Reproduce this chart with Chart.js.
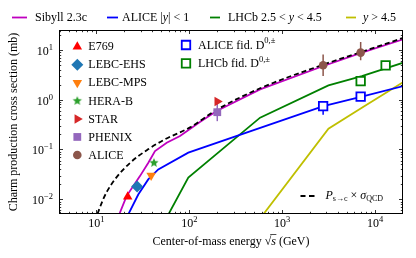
<!DOCTYPE html>
<html>
<head>
<meta charset="utf-8">
<script src="https://cdn.jsdelivr.net/npm/chart.js@4.4.1/dist/chart.umd.min.js"></script>
<style>
  html, body { margin: 0; padding: 0; background: #fff; }
  #c { display: block; }
</style>
</head>
<body>
<canvas id="c" width="416" height="258"></canvas>
<script>
// ---- data ----
const sibyllEnergy = [17.6, 21.1, 29.4, 36.2, 42.7, 57.1, 79.4, 130, 197, 578, 2780, 7210, 20200];
const sibyllSigma  = [0.005, 0.0116, 0.0292, 0.0543, 0.0929, 0.137, 0.186, 0.355, 0.59, 1.61, 4.73, 8.79, 16.3];

const aliceMidEnergy = [22.0, 28.2, 36.1, 46.3, 97.5, 2780, 7210, 20200];
const aliceMidSigma  = [0.00497, 0.0125, 0.0251, 0.0398, 0.0863, 0.743, 1.15, 1.88];

const lhcbEnergy = [59.5, 97.5, 578, 3150, 7210, 20200];
const lhcbSigma  = [0.00497, 0.0272, 0.435, 1.94, 2.98, 5.53];

const fwdEnergy = [627, 3150, 7210, 20200];
const fwdSigma  = [0.0050, 0.262, 0.69, 2.26];

const qcdEnergy = [10.25, 11.8, 13.0, 15.8, 23.0, 35.9, 54.7, 102, 197, 578, 2780, 7210, 20200];
const qcdSigma  = [0.0051, 0.00995, 0.0144, 0.0251, 0.0538, 0.1005, 0.160, 0.278, 0.624, 1.69, 5.05, 9.12, 17.4];

const e769Energy = [21.7],  e769Sigma = [0.0113];
const ehsEnergy  = [27.4],  ehsSigma  = [0.018];
const mpsEnergy  = [38.8],  mpsSigma  = [0.030];
const herabEnergy = [41.6], herabSigma = [0.054];
const starEnergy = [200],   starSigma = [0.92];
const phenixEnergy = [200], phenixSigma = [0.56], phenixLo = [0.37], phenixHi = [0.88];
const aliceEnergy = [2760, 7000], aliceSigma = [4.89, 8.79], aliceLo = [3.0, 6.2], aliceHi = [8.1, 14.4];
const aliceFidEnergy = [2760, 7000], aliceFidSigma = [0.743, 1.15], aliceFidLo = [0.5, 1.07], aliceFidHi = [0.92, 1.24];
const lhcbFidEnergy = [7000, 13000], lhcbFidSigma = [2.36, 4.89];

const xTickExps = [1, 2, 3, 4];
const yTickExps = [-2, -1, 0, 1];

// ---- helpers ----
const SERIF = '"Liberation Serif", "Times New Roman", serif';
function font(size, style) { return (style || '') + ' ' + size + 'px ' + SERIF; }

function pts(xs, ys) { return xs.map((x, i) => ({ x: x, y: ys[i] })); }
function errPts(xs, lo, hi) {
    const out = [];
    xs.forEach((x, i) => { out.push({ x: x, y: lo[i] }, { x: x, y: hi[i] }, { x: x, y: null }); });
    return out;
}

function starCanvas(color, r) {
    const c = document.createElement('canvas');
    const s = Math.ceil(r * 2 + 2);
    c.width = s; c.height = s;
    const g = c.getContext('2d');
    g.fillStyle = color;
    g.beginPath();
    for (let i = 0; i < 10; i++) {
        const a = -Math.PI / 2 + i * Math.PI / 5;
        const rr = i % 2 ? r * 0.45 : r;
        g.lineTo(s / 2 + rr * Math.cos(a), s / 2 + rr * Math.sin(a));
    }
    g.closePath();
    g.fill();
    return c;
}

function drawRuns(ctx, parts, x, y) {
    ctx.textAlign = 'left';
    parts.forEach(p => {
        ctx.font = font(p[1], p[2]);
        ctx.fillText(p[0], x, y + (p[3] || 0));
        x += ctx.measureText(p[0]).width;
    });
    return x;
}
function runsWidth(ctx, parts) {
    let w = 0;
    parts.forEach(p => { ctx.font = font(p[1], p[2]); w += ctx.measureText(p[0]).width; });
    return w;
}
function supText(n) { return n < 0 ? '\u2212' + (-n) : String(n); }

// ---- markers ----
const markerSets = [
    { label: 'E769', xs: e769Energy, ys: e769Sigma, color: '#ff0000', style: 'triangle', r: 5.5, rot: 0 },
    { label: 'LEBC-EHS', xs: ehsEnergy, ys: ehsSigma, color: '#1f77b4', style: 'rectRot', r: 6, rot: 0 },
    { label: 'LEBC-MPS', xs: mpsEnergy, ys: mpsSigma, color: '#ff7f0e', style: 'triangle', r: 5.5, rot: 180 },
    { label: 'HERA-B', xs: herabEnergy, ys: herabSigma, color: '#2ca02c', style: starCanvas('#2ca02c', 4.8), r: 5, rot: 0 },
    { label: 'STAR', xs: starEnergy, ys: starSigma, color: '#d62728', style: 'triangle', r: 5.5, rot: 90 },
    { label: 'PHENIX', xs: phenixEnergy, ys: phenixSigma, color: '#9467bd', style: 'rect', r: 5.5, rot: 0 },
    { label: 'ALICE', xs: aliceEnergy, ys: aliceSigma, color: '#8c564b', style: 'circle', r: 4.3, rot: 0 }
];
const openSets = [
    { label: 'ALICE fid. D', xs: aliceFidEnergy, ys: aliceFidSigma, color: '#0000ff' },
    { label: 'LHCb fid. D', xs: lhcbFidEnergy, ys: lhcbFidSigma, color: '#008000' }
];

const datasets = [];
openSets.forEach(m => datasets.push({
    data: pts(m.xs, m.ys), pointStyle: 'rect', pointRadius: 6, pointBorderWidth: 1.8,
    pointBorderColor: m.color, pointBackgroundColor: '#ffffff', showLine: false
}));
markerSets.slice().reverse().forEach(m => datasets.push({
    data: pts(m.xs, m.ys), pointStyle: m.style, pointRadius: m.r, pointRotation: m.rot,
    pointBorderWidth: 0, pointBackgroundColor: m.color, pointBorderColor: m.color, showLine: false
}));
function errSet(data, color) {
    return { data: data, showLine: true, spanGaps: false, borderColor: color, borderWidth: 1.5, pointRadius: 0 };
}
datasets.push(errSet(errPts(aliceEnergy, aliceLo, aliceHi), '#8c564b'));
datasets.push(errSet(errPts(phenixEnergy, phenixLo, phenixHi), '#9467bd'));
datasets.push(errSet(errPts(aliceFidEnergy, aliceFidLo, aliceFidHi), '#0000ff'));

function curve(xs, ys, color, dash, smooth) {
    const d = { data: pts(xs, ys), showLine: true, borderColor: color, borderWidth: 1.8,
        borderDash: dash || [], pointRadius: 0, tension: 0 };
    if (smooth) d.cubicInterpolationMode = 'monotone';
    return d;
}
datasets.push(curve(qcdEnergy, qcdSigma, '#000000', [5, 3], true));
datasets.push(curve(sibyllEnergy, sibyllSigma, '#bf00bf'));
datasets.push(curve(aliceMidEnergy, aliceMidSigma, '#0000ff'));
datasets.push(curve(lhcbEnergy, lhcbSigma, '#008000'));
datasets.push(curve(fwdEnergy, fwdSigma, '#bfbf00'));

// ---- frame, ticks, labels, legends ----
const framePlugin = {
    id: 'frame',
    afterDraw(chart) {
        const ctx = chart.ctx;
        const a = chart.chartArea;
        const xs = chart.scales.x, ys = chart.scales.y;
        ctx.save();
        ctx.fillStyle = '#000';
        ctx.strokeStyle = '#000';

        // box
        ctx.lineWidth = 1;
        ctx.strokeRect(a.left + 0.5, a.top + 0.5, a.right - a.left - 1, a.bottom - a.top - 1);

        // ticks on all sides, pointing in
        ctx.lineWidth = 0.8;
        ctx.beginPath();
        for (let k = 0; k <= 5; k++) {
            for (let m = 1; m <= 9; m++) {
                const v = m * Math.pow(10, k);
                const len = m === 1 ? 4 : 2.2;
                const px = Math.round(xs.getPixelForValue(v)) + 0.5;
                if (px > a.left && px < a.right) {
                    ctx.moveTo(px, a.bottom); ctx.lineTo(px, a.bottom - len);
                    ctx.moveTo(px, a.top); ctx.lineTo(px, a.top + len);
                }
            }
        }
        for (let k = -3; k <= 1; k++) {
            for (let m = 1; m <= 9; m++) {
                const v = m * Math.pow(10, k);
                const len = m === 1 ? 4 : 2.2;
                const py = Math.round(ys.getPixelForValue(v)) + 0.5;
                if (py > a.top && py < a.bottom) {
                    ctx.moveTo(a.left, py); ctx.lineTo(a.left + len, py);
                    ctx.moveTo(a.right, py); ctx.lineTo(a.right - len, py);
                }
            }
        }
        ctx.stroke();

        // tick labels
        ctx.textBaseline = 'alphabetic';
        xTickExps.forEach(k => {
            const parts = [['10', 12], [supText(k), 8.5, '', -5]];
            const w = runsWidth(ctx, parts);
            drawRuns(ctx, parts, xs.getPixelForValue(Math.pow(10, k)) - w / 2, a.bottom + 13);
        });
        yTickExps.forEach(k => {
            const parts = [['10', 12], [supText(k), 8.5, '', -5]];
            const w = runsWidth(ctx, parts);
            drawRuns(ctx, parts, a.left - 6 - w, ys.getPixelForValue(Math.pow(10, k)) + 5);
        });

        // x title
        const xt = [['Center-of-mass energy ', 12], ['\u221A', 12], ['s', 12, 'italic'], [' (GeV)', 12]];
        const xw = runsWidth(ctx, xt);
        const x0 = (a.left + a.right) / 2 - xw / 2;
        const base = 245;
        drawRuns(ctx, xt, x0, base);
        ctx.font = font(12);
        const preW = ctx.measureText('Center-of-mass energy \u221A').width;
        ctx.font = font(12, 'italic');
        const sW = ctx.measureText('s').width;
        ctx.lineWidth = 0.7;
        ctx.beginPath();
        ctx.moveTo(x0 + preW - 1, base - 10.5);
        ctx.lineTo(x0 + preW + sW + 0.5, base - 10.5);
        ctx.stroke();

        // y title
        ctx.save();
        ctx.translate(14, (a.top + a.bottom) / 2);
        ctx.rotate(-Math.PI / 2);
        ctx.font = font(12);
        ctx.textAlign = 'center';
        ctx.textBaseline = 'middle';
        ctx.fillText('Charm production cross section (mb)', 0, 0);
        ctx.restore();

        const draw = Chart.helpers && Chart.helpers.drawPoint;
        function marker(opts, x, y, fill, stroke, bw) {
            ctx.fillStyle = fill; ctx.strokeStyle = stroke; ctx.lineWidth = bw;
            if (draw) {
                draw(ctx, { pointStyle: opts.style, radius: opts.r, rotation: opts.rot || 0, borderWidth: bw }, x, y);
            } else {
                ctx.beginPath(); ctx.arc(x, y, opts.r, 0, Math.PI * 2); ctx.fill();
            }
        }

        // left legend
        ctx.textBaseline = 'middle';
        markerSets.forEach((m, i) => {
            const y = 46.7 + i * 18.05;
            marker(m, 77.3, y, m.color, m.color, 0);
            ctx.fillStyle = '#000';
            ctx.font = font(12);
            ctx.textAlign = 'left';
            ctx.fillText(m.label, 88.3, y + 0.5);
        });

        // open-square legend
        openSets.forEach((m, i) => {
            const y = 45 + i * 18.3;
            marker({ style: 'rect', r: 6 }, 186, y, '#ffffff', m.color, 1.8);
            ctx.fillStyle = '#000';
            drawRuns(ctx, [[m.label, 12], ['0,\u00B1', 8.5, '', -4.5]], 198, y + 0.5);
        });

        // top legend
        const topItems = [
            { x1: 12, x2: 27, tx: 35, color: '#bf00bf', parts: [['Sibyll 2.3c', 12]] },
            { x1: 107, x2: 118, tx: 122, color: '#0000ff', parts: [['ALICE |', 12], ['y', 12, 'italic'], ['| < 1', 12]] },
            { x1: 210, x2: 220, tx: 228, color: '#008000', parts: [['LHCb 2.5 < ', 12], ['y', 12, 'italic'], [' < 4.5', 12]] },
            { x1: 346, x2: 356, tx: 363, color: '#bfbf00', parts: [['y', 12, 'italic'], [' > 4.5', 12]] }
        ];
        topItems.forEach(it => {
            ctx.strokeStyle = it.color;
            ctx.lineWidth = 1.8;
            ctx.beginPath(); ctx.moveTo(it.x1, 17.5); ctx.lineTo(it.x2, 17.5); ctx.stroke();
            ctx.fillStyle = '#000';
            drawRuns(ctx, it.parts, it.tx, 17.5);
        });

        // dashed legend bottom right
        ctx.strokeStyle = '#000';
        ctx.lineWidth = 1.8;
        ctx.beginPath();
        ctx.moveTo(300.5, 196); ctx.lineTo(305.5, 196);
        ctx.moveTo(309, 196); ctx.lineTo(314.5, 196);
        ctx.stroke();
        ctx.fillStyle = '#000';
        drawRuns(ctx, [['P', 12, 'italic'], ['s\u2192c', 8, '', 3], [' \u00D7 ', 12], ['\u03C3', 12, 'italic'], ['QCD', 8, '', 3]], 325.5, 196);

        ctx.restore();
    }
};

new Chart(document.getElementById('c'), {
    type: 'scatter',
    data: { datasets: datasets },
    options: {
        responsive: false,
        animation: false,
        devicePixelRatio: 1,
        layout: { padding: { left: 59, right: 13, top: 30, bottom: 44 } },
        plugins: { legend: { display: false }, tooltip: { enabled: false } },
        scales: {
            x: { type: 'logarithmic', min: 3.95, max: 20000, display: false },
            y: { type: 'logarithmic', min: 0.00507, max: 25, display: false }
        }
    },
    plugins: [framePlugin]
});
</script>
</body>
</html>
